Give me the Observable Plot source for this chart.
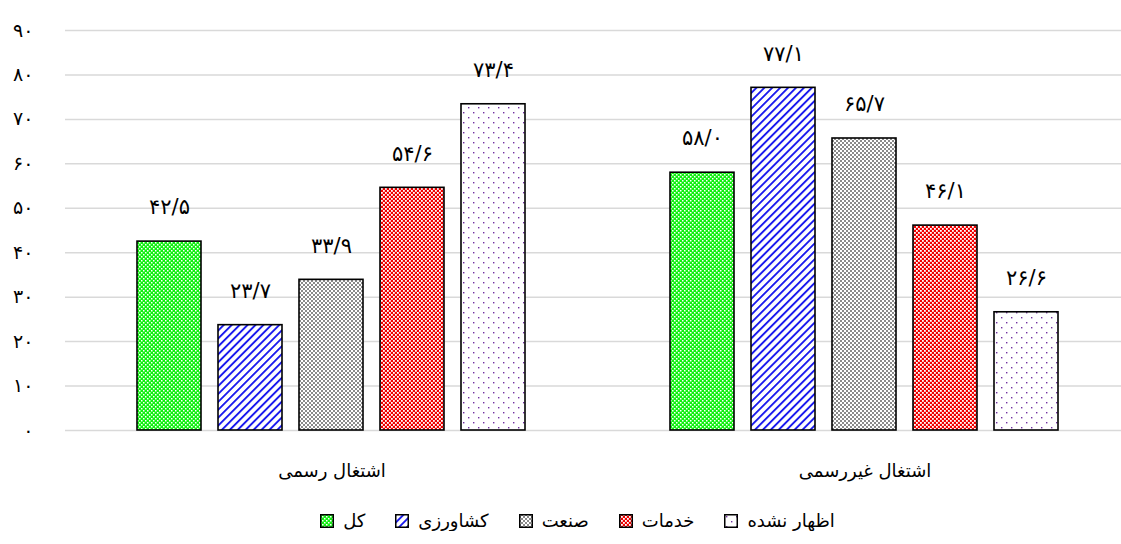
<!DOCTYPE html>
<html>
<head>
<meta charset="utf-8">
<script src="https://cdn.jsdelivr.net/npm/d3@7"></script>
<script src="https://cdn.jsdelivr.net/npm/@observablehq/plot@0.6"></script>
<style>
  body { margin: 0; background: #fff; font-family: "DejaVu Sans", sans-serif; }
  #chart { width: 1121px; }
  .legend { display: flex; justify-content: center; align-items: center; gap: 30px; font-size: 18px; margin-top: 20px; padding-left: 34px; }
  .legend .item { display: flex; align-items: center; gap: 9px; }
  .legend svg { display: block; }
</style>
</head>
<body>
<div id="chart"></div>
<script>
const groups = ["اشتغال رسمی", "اشتغال غیررسمی"];
const series = ["کل", "کشاورزی", "صنعت", "خدمات", "اظهار نشده"];
const formalValues = [42.5, 23.7, 33.9, 54.6, 73.4];
const informalValues = [58.0, 77.1, 65.7, 46.1, 26.6];
const yTicks = [0, 10, 20, 30, 40, 50, 60, 70, 80, 90];
const patternIds = ["pGreen", "pBlue", "pGray", "pRed", "pDots"];

const data = [];
series.forEach((s, i) => {
  data.push({group: groups[0], series: s, value: formalValues[i], fill: `url(#${patternIds[i]})`});
  data.push({group: groups[1], series: s, value: informalValues[i], fill: `url(#${patternIds[i]})`});
});

const faDigits = "۰۱۲۳۴۵۶۷۸۹";
const toFa = (s) => String(s).replace(/[0-9]/g, d => faDigits[+d]);
const fmtVal = (v) => toFa(v.toFixed(1)).replace(".", "/");

const defs = `
<defs>
  <pattern id="pGreen" width="4" height="4" patternUnits="userSpaceOnUse">
    <rect width="4" height="4" fill="#10f010"/>
    <rect x="0" y="0" width="1.5" height="1.5" fill="#ffffff"/>
    <rect x="2" y="2" width="1.5" height="1.5" fill="#ffffff"/>
  </pattern>
  <pattern id="pRed" width="4" height="4" patternUnits="userSpaceOnUse">
    <rect width="4" height="4" fill="#f00000"/>
    <rect x="0" y="0" width="1.8" height="1.8" fill="#ffffff"/>
    <rect x="2" y="2" width="1.8" height="1.8" fill="#ffffff"/>
  </pattern>
  <pattern id="pGray" width="4" height="4" patternUnits="userSpaceOnUse">
    <rect width="4" height="4" fill="#8a8a8a"/>
    <rect x="0" y="0" width="2" height="2" fill="#ffffff"/>
    <rect x="2" y="2" width="2" height="2" fill="#ffffff"/>
  </pattern>
  <pattern id="pBlue" width="5.6" height="5.6" patternUnits="userSpaceOnUse" patternTransform="rotate(45)">
    <rect width="5.6" height="5.6" fill="#ffffff"/>
    <rect x="0" y="0" width="1.9" height="5.6" fill="#1a1aee"/>
  </pattern>
  <pattern id="pDots" width="10" height="10" patternUnits="userSpaceOnUse">
    <rect width="10" height="10" fill="#ffffff"/>
    <rect x="2" y="2" width="1.4" height="1.4" fill="#7030a0"/>
    <rect x="7" y="7" width="1.4" height="1.4" fill="#7030a0"/>
  </pattern>
</defs>`;

const plot = Plot.plot({
  width: 1121,
  height: 490,
  marginTop: 30,
  marginBottom: 60,
  marginLeft: 64,
  marginRight: -10,
  style: {fontFamily: "DejaVu Sans, sans-serif", color: "#000", background: "#fff"},
  fx: {domain: groups, padding: 0, label: null},
  x: {domain: series, paddingInner: 0.207, paddingOuter: 0.854, axis: null},
  y: {domain: [0, 90], ticks: yTicks, label: null},
  color: {type: "identity"},
  marks: [
    Plot.gridY(yTicks, {stroke: "#d9d9d9", strokeOpacity: 1, strokeWidth: 1.5}),
    Plot.axisY(yTicks, {tickSize: 0, tickPadding: 32, fontSize: 19, fontWeight: "normal", tickFormat: toFa, label: null}),
    Plot.axisFx({anchor: "bottom", tickSize: 0, tickPadding: 34, fontSize: 18, label: null}),
    Plot.barY(data, {fx: "group", x: "series", y: "value", fill: "fill", stroke: "#000", strokeWidth: 1.6}),
    Plot.text(data, {fx: "group", x: "series", y: "value", text: d => fmtVal(d.value), dy: -34, fontSize: 21, fill: "#000"})
  ]
});

plot.insertAdjacentHTML("afterbegin", defs);
document.getElementById("chart").appendChild(plot);

const legend = document.createElement("div");
legend.className = "legend";
series.forEach((s, i) => {
  const item = document.createElement("div");
  item.className = "item";
  item.innerHTML = `<svg width="14" height="14"><rect x="0.75" y="0.75" width="12.5" height="12.5" fill="url(#${patternIds[i]})" stroke="#000" stroke-width="1.5"/></svg><span>${s}</span>`;
  legend.appendChild(item);
});
document.getElementById("chart").appendChild(legend);
</script>
</body>
</html>
